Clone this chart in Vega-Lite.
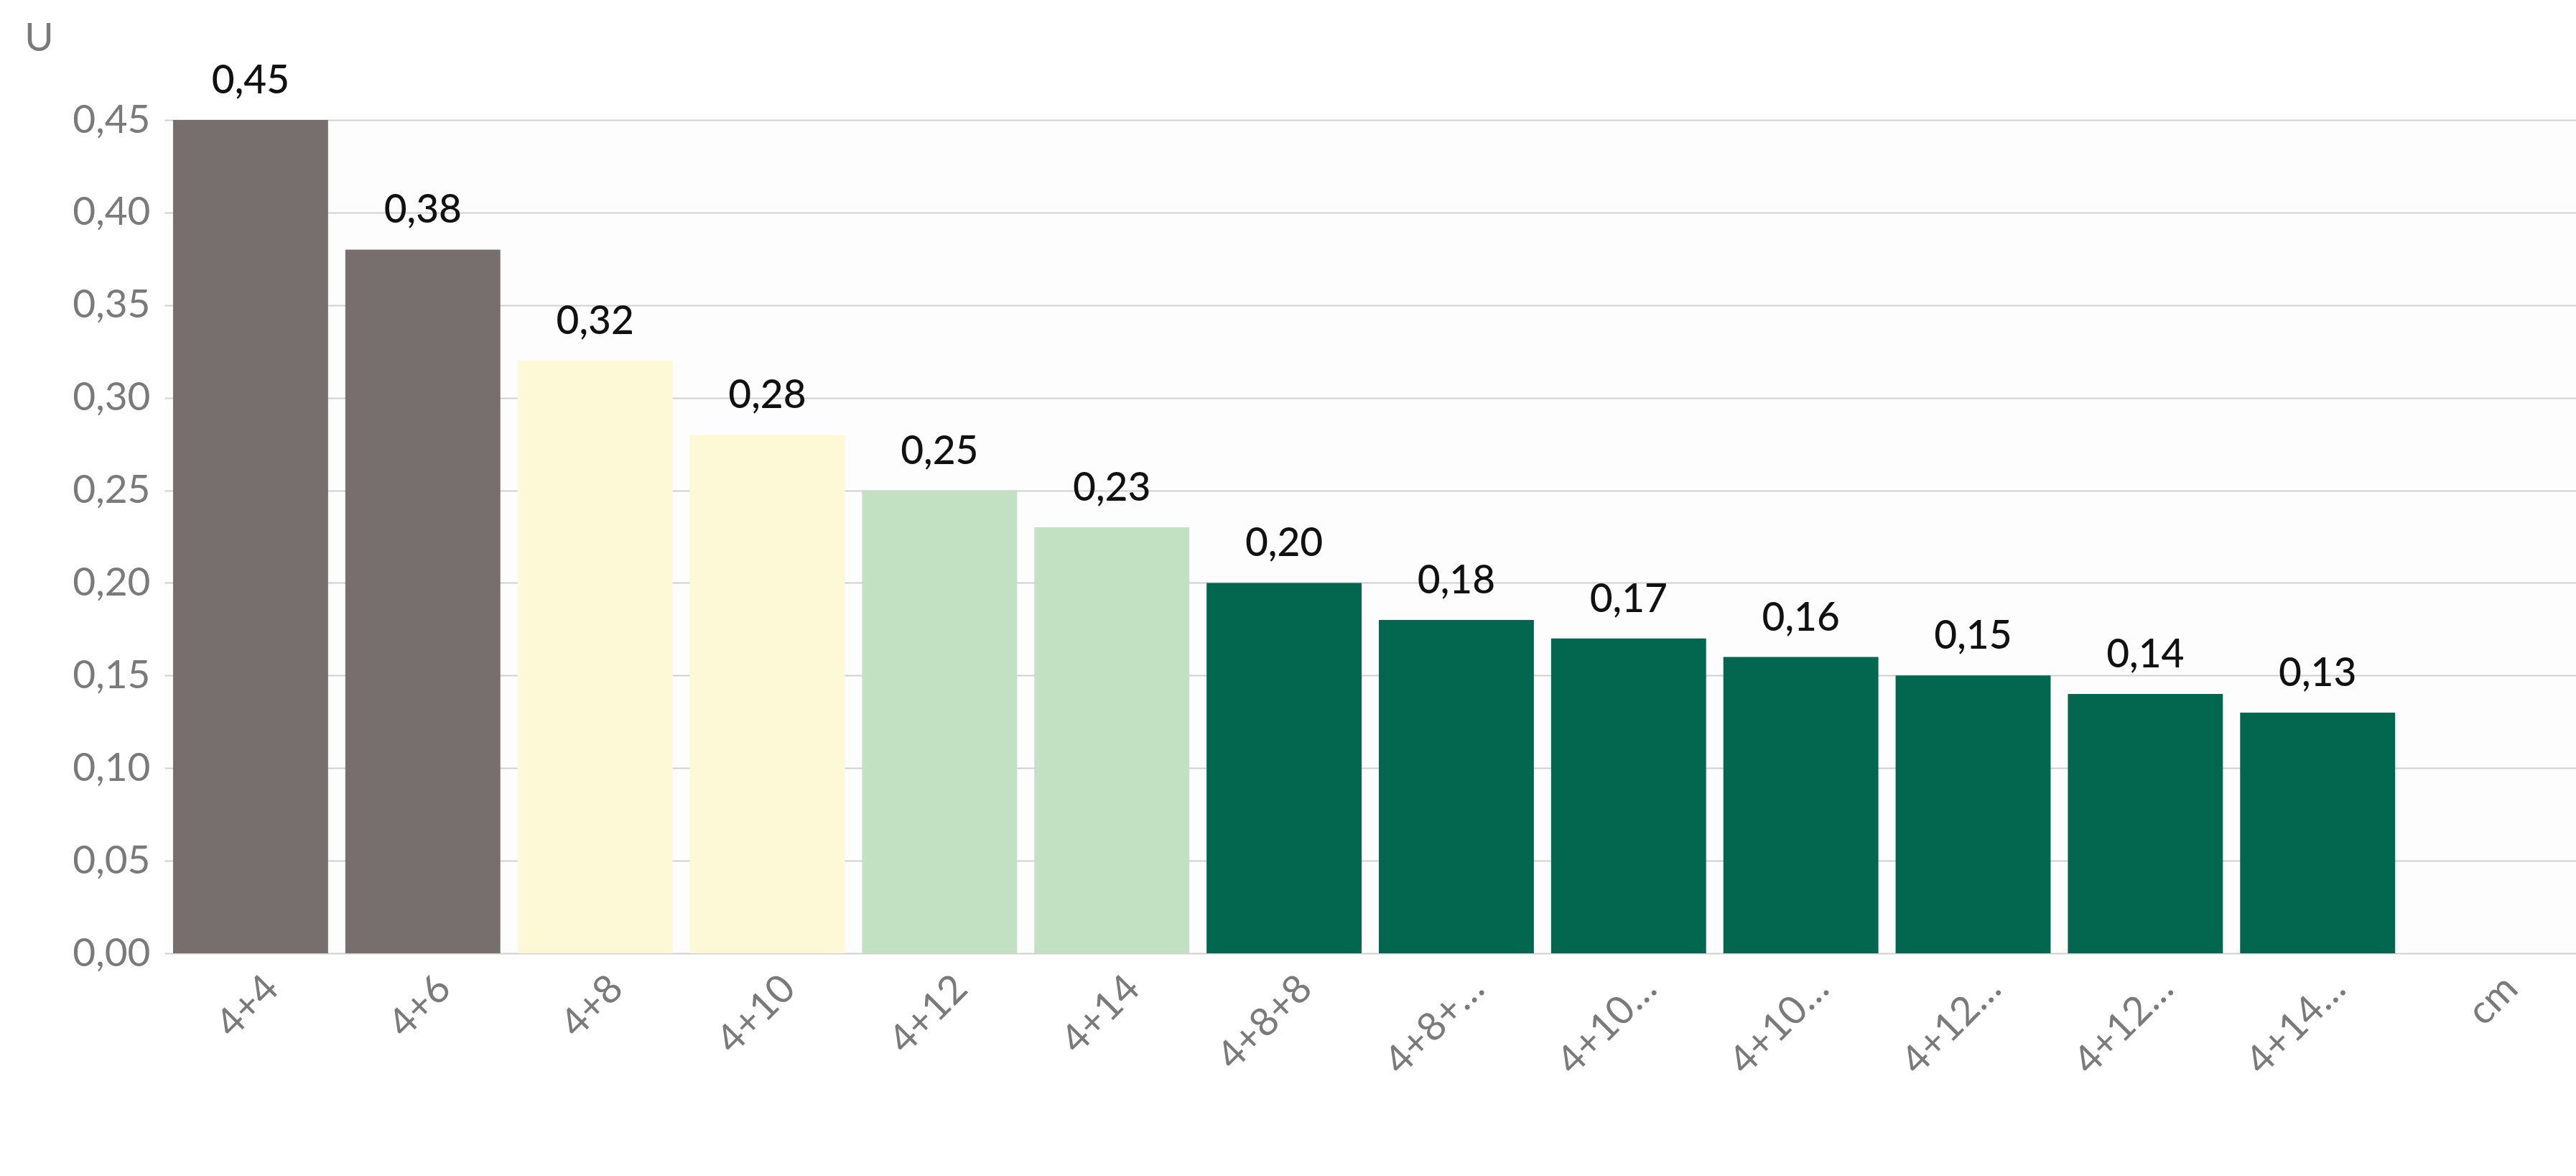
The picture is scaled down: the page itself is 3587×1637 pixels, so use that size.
{
  "$schema": "https://vega.github.io/schema/vega-lite/v6.json",
  "autosize": "none",
  "width": 3358,
  "height": 1160,
  "padding": {"left": 229, "top": 167, "right": 0, "bottom": 310},
  "background": "#ffffff",
  "config": {
    "view": {"stroke": null, "fill": "#fdfdfd"},
    "font": "Lato",
    "locale": {"number": {"decimal": ",", "thousands": ".", "grouping": [3], "currency": ["", " €"]}}
  },
  "data": {
    "values": [
      {"k": "4+4", "v": 0.45, "g": "a"},
      {"k": "4+6", "v": 0.38, "g": "a"},
      {"k": "4+8", "v": 0.32, "g": "b"},
      {"k": "4+10", "v": 0.28, "g": "b"},
      {"k": "4+12", "v": 0.25, "g": "c"},
      {"k": "4+14", "v": 0.23, "g": "c"},
      {"k": "4+8+8", "v": 0.20, "g": "d"},
      {"k": "4+8+10", "v": 0.18, "g": "d"},
      {"k": "4+10+10", "v": 0.17, "g": "d"},
      {"k": "4+10+12", "v": 0.16, "g": "d"},
      {"k": "4+12+12", "v": 0.15, "g": "d"},
      {"k": "4+12+14", "v": 0.14, "g": "d"},
      {"k": "4+14+14", "v": 0.13, "g": "d"}
    ]
  },
  "encoding": {
    "x": {
      "field": "k", "type": "nominal", "sort": null,
      "scale": {"domain": ["4+4", "4+6", "4+8", "4+10", "4+12", "4+14", "4+8+8", "4+8+10", "4+10+10", "4+10+12", "4+12+12", "4+12+14", "4+14+14", "cm"], "paddingInner": 0.1, "paddingOuter": 0.05},
      "axis": {"title": null, "labelAngle": -45, "labelAlign": "right", "labelBaseline": "middle", "labelColor": "#7a7a7a", "labelFontSize": 55, "domain": false, "ticks": false, "labelPadding": 40, "labelOffset": 30}
    },
    "y": {
      "field": "v", "type": "quantitative",
      "scale": {"domain": [0, 0.45]},
      "axis": {"title": "U", "titleAngle": 0, "titleX": -175, "titleY": -85, "titleColor": "#7a7a7a", "titleFontSize": 55, "titleFontWeight": "normal",
        "values": [0, 0.05, 0.1, 0.15, 0.2, 0.25, 0.3, 0.35, 0.4, 0.45], "format": ".2f",
        "labelColor": "#7a7a7a", "labelFontSize": 55, "domain": false, "ticks": false, "labelPadding": 20,
        "gridColor": "#d0d0d0", "gridWidth": 2}
    }
  },
  "layer": [
    {
      "mark": {"type": "bar"},
      "encoding": {
        "color": {"field": "g", "type": "nominal", "legend": null,
          "scale": {"domain": ["a", "b", "c", "d"], "range": ["#776e6e", "#fdf9d6", "#c2e0c2", "#03674f"]}}
      }
    },
    {
      "mark": {"type": "text", "baseline": "bottom", "dy": -25, "fontSize": 55, "fontWeight": 500, "color": "#111111"},
      "encoding": {"text": {"field": "v", "type": "quantitative", "format": ".2f"}}
    }
  ]
}
